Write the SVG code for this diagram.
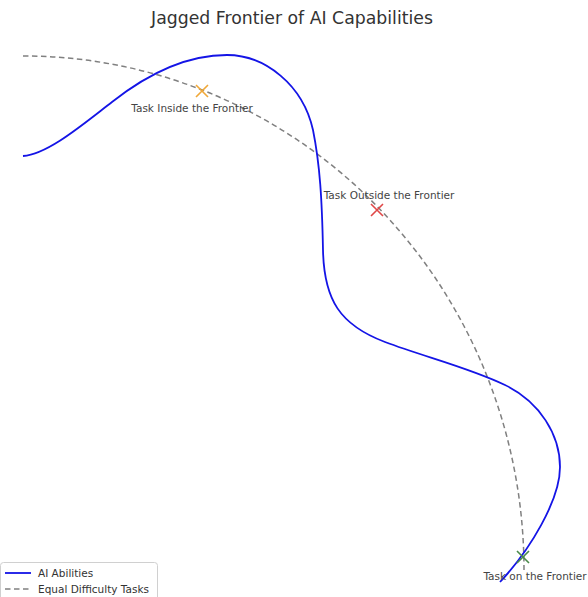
<svg xmlns="http://www.w3.org/2000/svg" width="588" height="597" viewBox="0 0 588 597">
  <style>
    text { font-family: "DejaVu Sans", "Liberation Sans", sans-serif; fill: #444; }
    .title { font-size: 17.3px; fill: #333; }
    .label { font-size: 10.5px; }
    .legend-text { font-size: 10.5px; fill: #333; }
    .frontier { fill: none; stroke: #1414e6; stroke-width: 1.8; }
    .equal { fill: none; stroke: #808080; stroke-width: 1.5; stroke-dasharray: 5.5 3.5; }
    .mark { stroke-width: 1.6; stroke-linecap: butt; }
  </style>
  <rect width="588" height="597" fill="#ffffff"/>

  <text class="title" x="292" y="24" text-anchor="middle">Jagged Frontier of AI Capabilities</text>

  <g id="connectors">
    <!-- tasks of equal difficulty: quarter ellipse -->
    <path id="equal-difficulty" class="equal" d="M23,56 A501,514 0 0 1 524,570"/>
    <!-- AI abilities frontier -->
    <path id="ai-abilities" class="frontier" d="M23,156 C48,154 82,125 112,102 C150,72 190,55 227,55 C265,55 303,85 313,130 C320,165 322,200 323,250 C324,300 340,325 385,342 C425,357 470,368 505,385 C540,402 560,435 560,467 C560,500 530,550 500,582"/>
  </g>

  <g id="task-inside">
    <path class="mark" stroke="#f0a838" d="M196,85 L208,97 M208,85 L196,97"/>
    <text class="label" x="192" y="112" text-anchor="middle">Task Inside the Frontier</text>
  </g>

  <g id="task-outside">
    <path class="mark" stroke="#e04848" d="M371,204 L383,216 M383,204 L371,216"/>
    <text class="label" x="389" y="199" text-anchor="middle">Task Outside the Frontier</text>
  </g>

  <g id="task-on">
    <path class="mark" stroke="#4a8a4a" d="M517,551 L529,563 M529,551 L517,563"/>
    <text class="label" x="535" y="580" text-anchor="middle">Task on the Frontier</text>
  </g>

  <g id="legend">
    <rect x="0.5" y="562.5" width="157" height="40" rx="3" fill="#ffffff" fill-opacity="0.8" stroke="#d0d0d0"/>
    <line x1="5" y1="573" x2="31" y2="573" class="frontier"/>
    <line x1="5" y1="589" x2="31" y2="589" stroke="#808080" stroke-width="1.5" stroke-dasharray="5.5 3.5"/>
    <text class="legend-text" x="38" y="577">AI Abilities</text>
    <text class="legend-text" x="38" y="593">Equal Difficulty Tasks</text>
  </g>
</svg>
